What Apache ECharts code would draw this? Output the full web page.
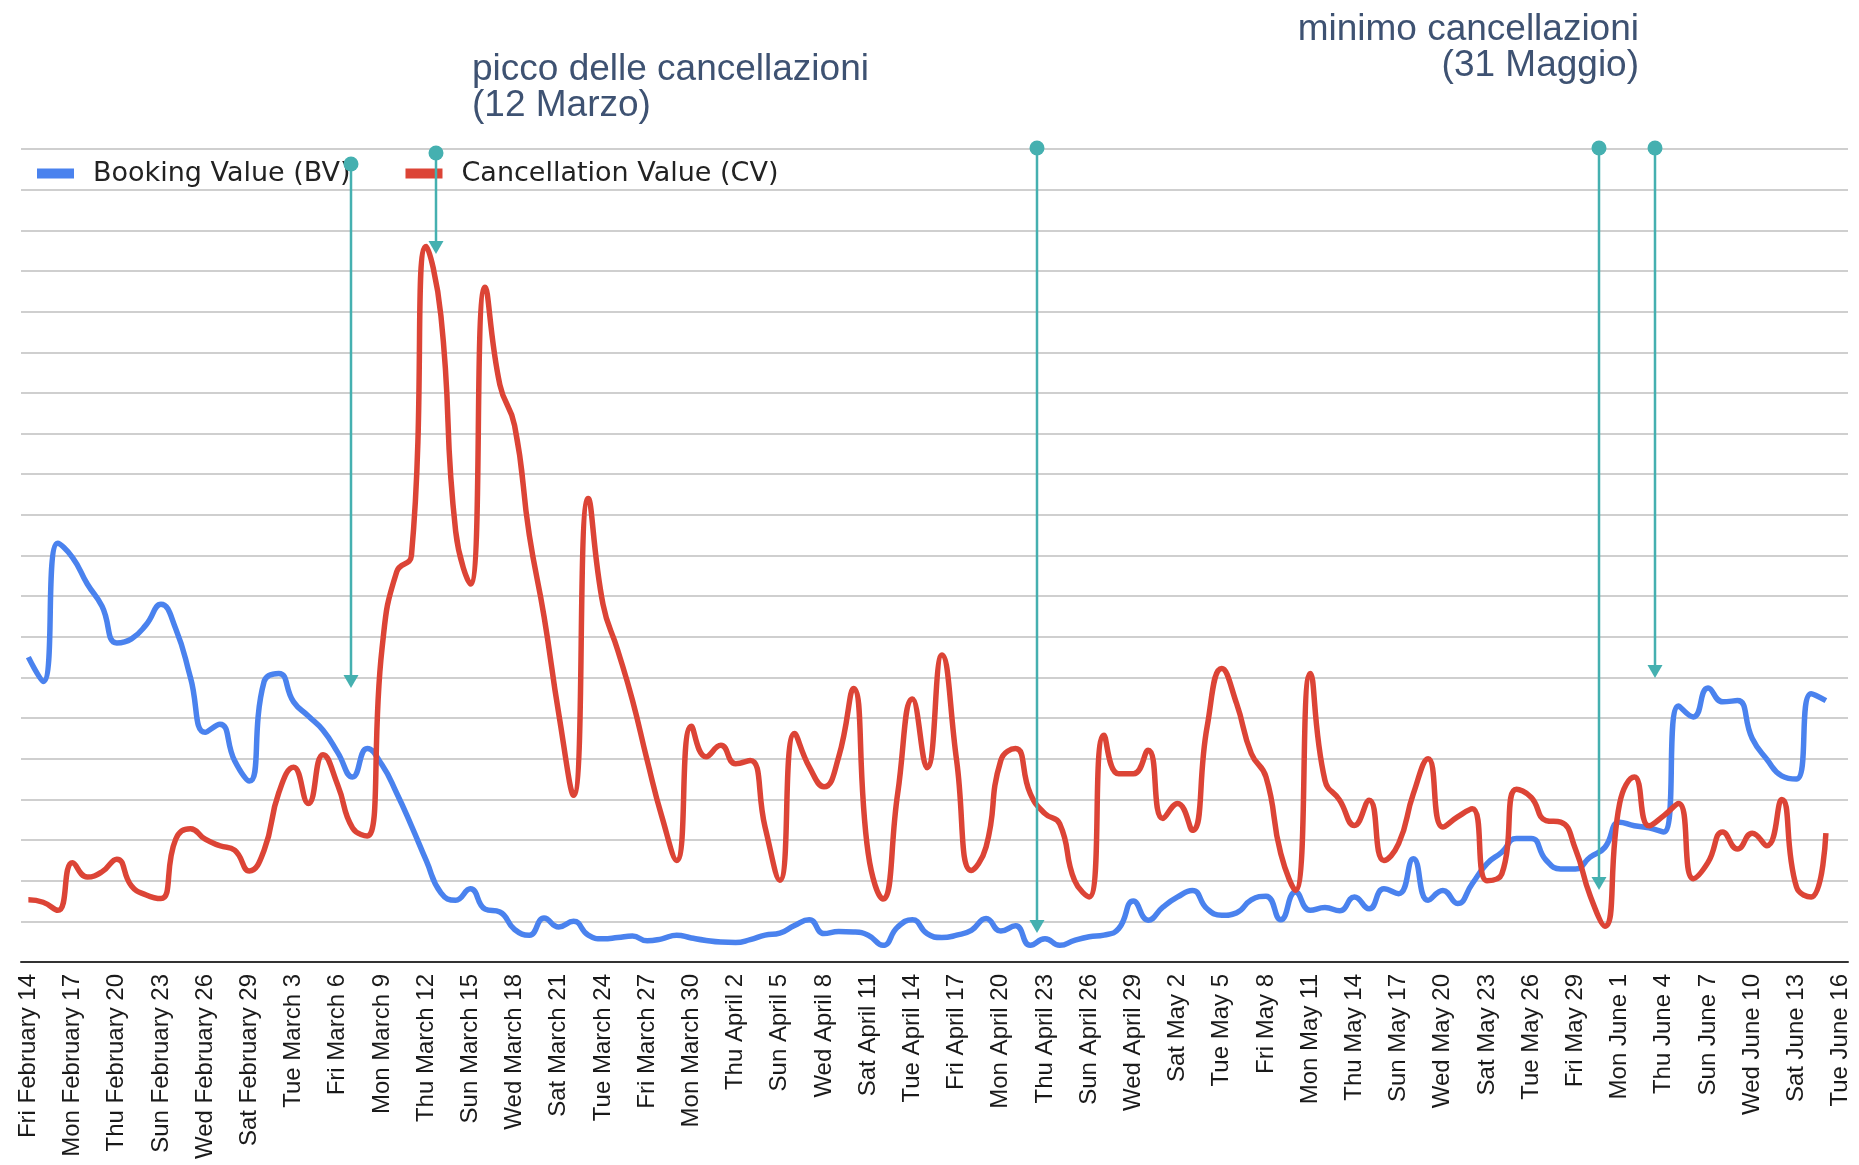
<!DOCTYPE html>
<html>
<head>
<meta charset="utf-8">
<script src="https://cdn.jsdelivr.net/npm/echarts@6/dist/echarts.min.js"></script>
<style>
  html, body { margin: 0; padding: 0; background: #fff; }
  #chart { width: 1859px; height: 1165px; }
</style>
</head>
<body>
<div id="chart"></div>
<script>
// giorni dal 14 febbraio al 16 giugno 2020
let dayNames = ['Sun', 'Mon', 'Tue', 'Wed', 'Thu', 'Fri', 'Sat']
let monthNames = ['January', 'February', 'March', 'April', 'May', 'June']
let categories = []
for (let i = 0; i < 124; i++) {
  let d = new Date(Date.UTC(2020, 1, 14 + i))
  categories.push(dayNames[d.getUTCDay()] + ' ' + monthNames[d.getUTCMonth()] + ' ' + d.getUTCDate())
}

let seriesNames = ['Booking Value (BV)', 'Cancellation Value (CV)']

let bookingValue = [
  7.5, 6.9, 10.3, 9.95, 9.3, 8.75, 7.85, 7.95, 8.3, 8.8,
  8.2, 7.0, 5.65, 5.85, 4.95, 4.45, 6.9, 7.1, 6.4, 6.05,
  5.7, 5.15, 4.55, 5.25, 4.85, 4.15, 3.35, 2.5, 1.7, 1.52,
  1.8, 1.3, 1.23, 0.8, 0.66, 1.08, 0.86, 1.0, 0.66, 0.57,
  0.6, 0.64, 0.52, 0.57, 0.66, 0.59, 0.53, 0.49, 0.48, 0.55,
  0.66, 0.71, 0.9, 1.04, 0.7, 0.75, 0.74, 0.66, 0.41, 0.86,
  1.04, 0.7, 0.6, 0.66, 0.78, 1.07, 0.76, 0.89, 0.41, 0.57,
  0.41, 0.53, 0.62, 0.66, 0.82, 1.5, 1.03, 1.35, 1.6, 1.76,
  1.31, 1.15, 1.21, 1.53, 1.62, 1.04, 1.72, 1.27, 1.34, 1.26,
  1.6, 1.31, 1.8, 1.68, 2.54, 1.52, 1.76, 1.44, 1.93, 2.42,
  2.7, 3.04, 3.04, 2.51, 2.29, 2.29, 2.58, 2.82, 3.44, 3.35,
  3.3, 3.2, 6.3, 6.03, 6.74, 6.4, 6.43, 5.5, 4.98, 4.58,
  4.5, 6.6, 6.43, null
]

let cancellationValue = [
  1.53, 1.47, 1.27, 2.44, 2.09, 2.22, 2.53, 1.87, 1.65, 1.56,
  3.02, 3.28, 3.02, 2.86, 2.75, 2.24, 2.75, 4.17, 4.79, 3.9,
  5.1, 4.35, 3.3, 3.1, 7.7, 9.6, 10.0, 17.6, 15.9, 10.6,
  9.3, 16.6, 14.2, 13.2, 10.5, 8.5, 6.1, 4.1, 11.4, 8.8,
  7.67, 6.44, 4.96, 3.57, 2.5, 5.8, 5.05, 5.33, 4.88, 4.96,
  3.32, 2.01, 5.62, 4.8, 4.31, 5.05, 6.73, 2.67, 1.55, 4.14,
  6.47, 4.78, 7.55, 4.96, 2.25, 2.83, 4.96, 5.25, 4.14, 3.65,
  3.4, 2.01, 1.6, 5.58, 4.63, 4.63, 5.21, 3.53, 3.9, 3.24,
  5.78, 7.22, 6.36, 5.13, 4.55, 2.67, 1.76, 7.1, 4.47, 3.98,
  3.36, 3.98, 2.5, 2.91, 4.14, 5.0, 3.32, 3.57, 3.77, 2.0,
  2.16, 4.25, 4.05, 3.48, 3.44, 2.78, 1.63, 0.88, 3.9, 4.55,
  3.35, 3.6, 3.9, 2.05, 2.45, 3.2, 2.78, 3.17, 2.86, 4.0,
  1.85, 1.6, 3.17, null
]

// note sopra il grafico
let noteLines = [
  ['picco delle cancellazioni', 472, 70, 'left'],
  ['(12 Marzo)', 472, 106, 'left'],
  ['minimo cancellazioni', 1639, 30, 'right'],
  ['(31 Maggio)', 1639, 66, 'right']
]
// frecce: x, y del pallino, y della punta
let arrows = [
  [351, 164, 688],
  [436, 153, 254],
  [1037, 148, 933],
  [1599, 148, 890],
  [1655, 148, 678]
]

let teal = '#45b0b0'
let graphics = []
arrows.forEach(a => {
  graphics.push({
    type: 'line', z: 100,
    shape: { x1: a[0], y1: a[1], x2: a[0], y2: a[2] - 10 },
    style: { stroke: teal, lineWidth: 2.5 }
  })
  graphics.push({
    type: 'circle', z: 100,
    shape: { cx: a[0], cy: a[1], r: 7.5 },
    style: { fill: teal }
  })
  graphics.push({
    type: 'polygon', z: 100,
    shape: { points: [[a[0] - 7.5, a[2] - 13], [a[0] + 7.5, a[2] - 13], [a[0], a[2]]] },
    style: { fill: teal }
  })
})
noteLines.forEach(n => {
  graphics.push({
    type: 'text', z: 100,
    style: {
      text: n[0], x: n[1], y: n[2],
      textAlign: n[3], textVerticalAlign: 'middle',
      font: '37px "Liberation Sans", Arial, sans-serif',
      fill: '#3e5272'
    }
  })
})

let chart = echarts.init(document.getElementById('chart'))
let option = {
  animation: false,
  color: ['#4a82ee', '#dc4436'],
  legend: {
    data: seriesNames,
    left: 32,
    top: 155,
    icon: 'rect',
    itemWidth: 37,
    itemHeight: 10,
    itemGap: 55,
    textStyle: {
      fontFamily: 'DejaVu Sans',
      fontSize: 27,
      color: '#222',
      padding: [0, 0, 0, 14]
    }
  },
  grid: { left: 21, right: 11, top: 149, bottom: 203 },
  xAxis: {
    type: 'category',
    data: categories,
    boundaryGap: true,
    axisLine: { lineStyle: { color: '#333', width: 2 } },
    axisTick: { show: false },
    axisLabel: {
      interval: 2,
      rotate: 90,
      margin: 12,
      fontFamily: 'Liberation Sans',
      fontSize: 24,
      color: '#1a1a1a'
    },
    splitLine: { show: false }
  },
  yAxis: {
    type: 'value',
    min: 0,
    max: 20,
    interval: 1,
    axisLabel: { show: false },
    axisLine: { show: false },
    axisTick: { show: false },
    splitLine: { lineStyle: { color: '#cfcfcf', width: 2 } }
  },
  series: [
    {
      name: seriesNames[0],
      type: 'line',
      data: bookingValue,
      smooth: 0.5,
      symbol: 'none',
      lineStyle: { width: 5.5 }
    },
    {
      name: seriesNames[1],
      type: 'line',
      data: cancellationValue,
      smooth: 0.5,
      symbol: 'none',
      lineStyle: { width: 5.5 }
    }
  ],
  graphic: graphics
}
chart.setOption(option)
</script>
</body>
</html>
